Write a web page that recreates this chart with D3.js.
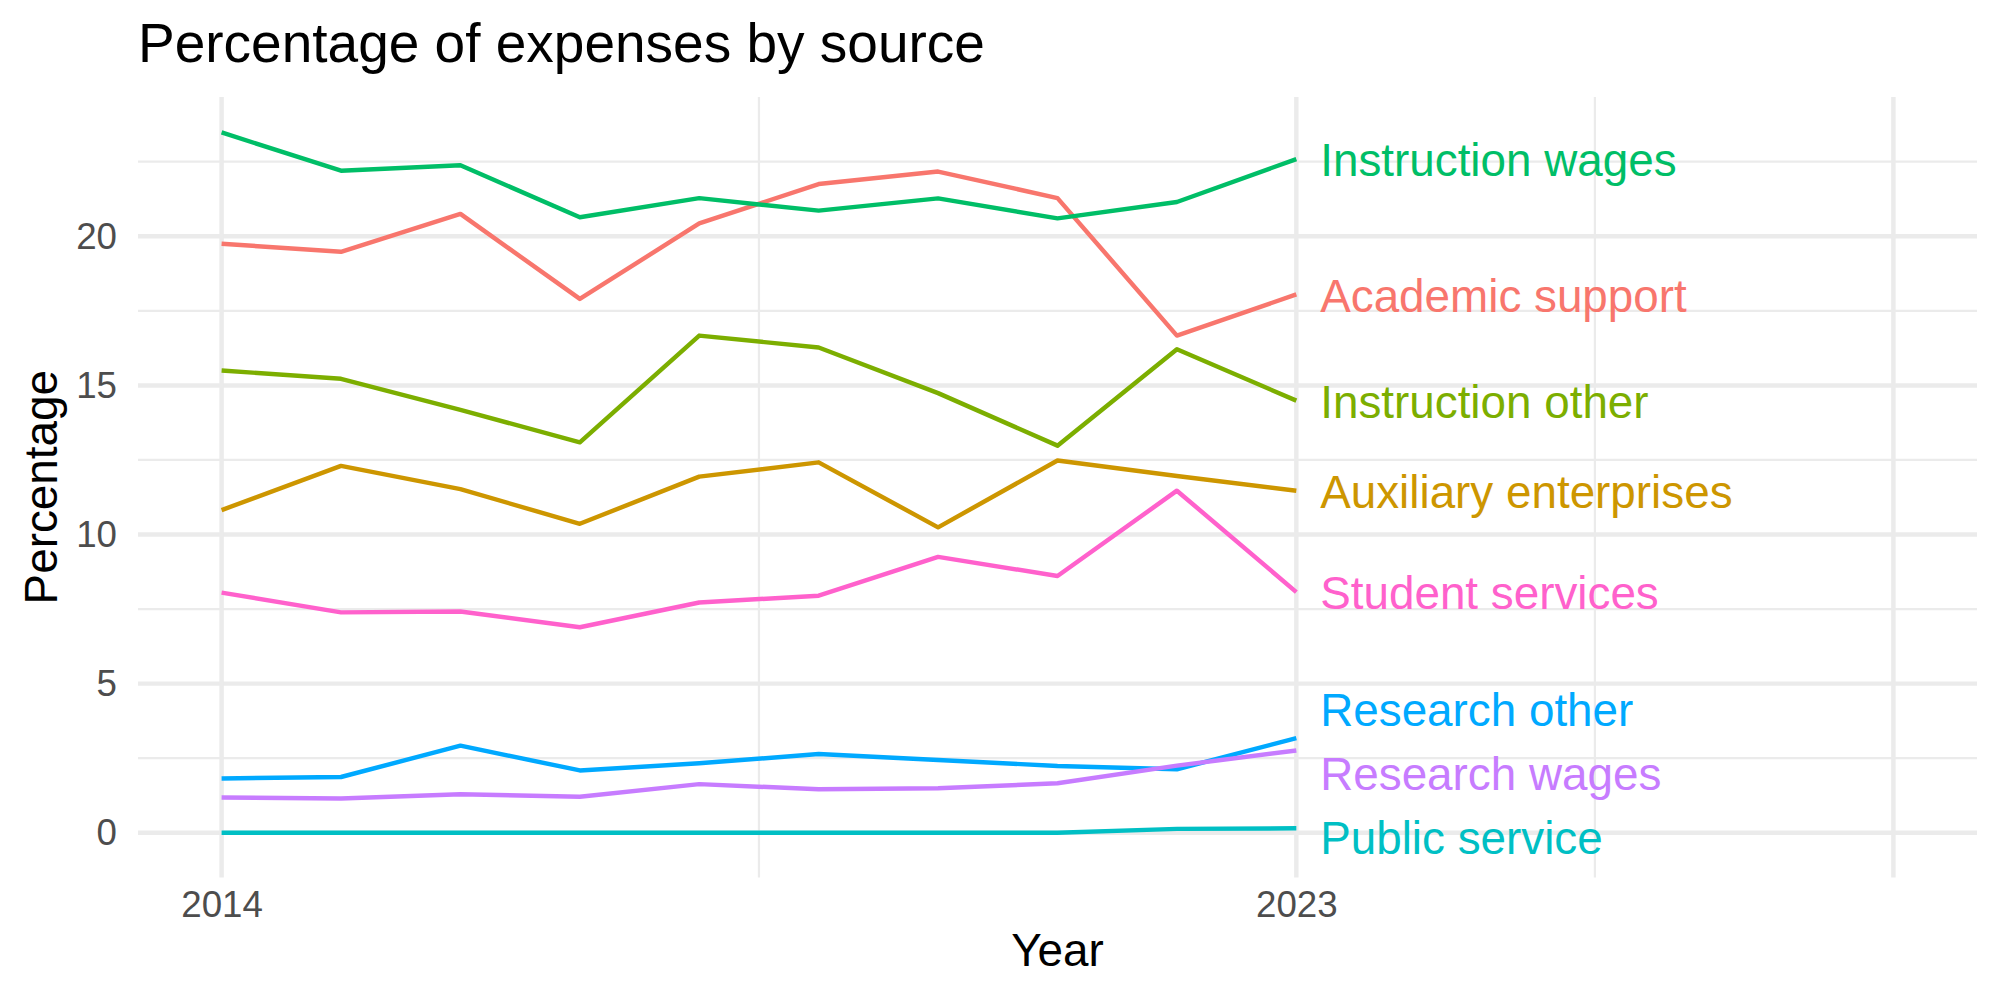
<!DOCTYPE html>
<html lang="en">
<head>
    <meta charset="UTF-8">
    <title>Percentage of expenses by source</title>
    <script src="https://cdn.jsdelivr.net/npm/d3@7"></script>
    <style>
        body { margin: 0; background: #fff; }
        text { font-family: 'Liberation Sans', Arial, sans-serif; }
    </style>
</head>
<body>
    <div class="chart"></div>
<script>
    // years on the x axis
    const years = [2014, 2015, 2016, 2017, 2018, 2019, 2020, 2021, 2022, 2023]

    // one array per expense source, percent of total
    const academicSupport = [19.75, 19.48, 20.75, 17.90, 20.43, 21.75, 22.17, 21.28, 16.67, 18.05]
    const auxiliaryEnterprises = [10.82, 12.30, 11.52, 10.36, 11.94, 12.42, 10.24, 12.48, 11.96, 11.47]
    const instructionOther = [15.50, 15.22, 14.18, 13.09, 16.67, 16.27, 14.74, 12.98, 16.21, 14.49]
    const instructionWages = [23.48, 22.20, 22.38, 20.64, 21.28, 20.86, 21.27, 20.60, 21.15, 22.59]
    const publicService = [0, 0, 0, 0, 0, 0, 0, 0, 0.13, 0.15]
    const researchOther = [1.82, 1.87, 2.92, 2.09, 2.33, 2.64, 2.44, 2.24, 2.13, 3.17]
    const researchWages = [1.18, 1.15, 1.29, 1.21, 1.63, 1.46, 1.49, 1.66, 2.25, 2.76]
    const studentServices = [8.05, 7.39, 7.42, 6.89, 7.72, 7.95, 9.25, 8.61, 11.47, 8.07]

    const sourceNames = ['Academic support', 'Auxiliary enterprises', 'Instruction other', 'Instruction wages',
        'Public service', 'Research other', 'Research wages', 'Student services']
    const sourceValues = [academicSupport, auxiliaryEnterprises, instructionOther, instructionWages,
        publicService, researchOther, researchWages, studentServices]
    const colors = ['#F8766D', '#CD9600', '#7CAE00', '#00BE67', '#00BFC4', '#00A9FF', '#C77CFF', '#FF61CC']

    // axis breaks
    const xMajor = [2014, 2023, 2028]
    const xMinor = [2018.5, 2025.5]
    const xLabels = [2014, 2023]
    const yMajor = [0, 5, 10, 15, 20]
    const yMinor = [2.5, 7.5, 12.5, 17.5, 22.5]

    const width = 2000
    const height = 1000
    const panel = { left: 138, right: 1977, top: 97, bottom: 877.5 }
    const gridColor = '#EBEBEB'

    const dataset = sourceNames.map((name, i) => ({
        name: name,
        color: colors[i],
        values: years.map((y, j) => [y, sourceValues[i][j]])
    }))

    const xScale = d3.scaleLinear().domain([2013.3, 2028.7]).range([panel.left, panel.right])
    const yScale = d3.scaleLinear().domain([-1.5, 24.67]).range([panel.bottom, panel.top])

    const svg = d3.select('.chart')
        .append('svg')
        .attr('width', width)
        .attr('height', height)

    svg.append('rect').attr('width', width).attr('height', height).attr('fill', '#fff')

    // grid
    const grid = svg.append('g')
    grid.selectAll('.ymin').data(yMinor).enter().append('line')
        .attr('x1', panel.left).attr('x2', panel.right)
        .attr('y1', d => yScale(d)).attr('y2', d => yScale(d))
        .attr('stroke', gridColor).attr('stroke-width', 2.2)
    grid.selectAll('.xmin').data(xMinor).enter().append('line')
        .attr('x1', d => xScale(d)).attr('x2', d => xScale(d))
        .attr('y1', panel.top).attr('y2', panel.bottom)
        .attr('stroke', gridColor).attr('stroke-width', 2.2)
    grid.selectAll('.ymaj').data(yMajor).enter().append('line')
        .attr('x1', panel.left).attr('x2', panel.right)
        .attr('y1', d => yScale(d)).attr('y2', d => yScale(d))
        .attr('stroke', gridColor).attr('stroke-width', 4.45)
    grid.selectAll('.xmaj').data(xMajor).enter().append('line')
        .attr('x1', d => xScale(d)).attr('x2', d => xScale(d))
        .attr('y1', panel.top).attr('y2', panel.bottom)
        .attr('stroke', gridColor).attr('stroke-width', 4.45)

    // axes (labels only)
    const xAxis = d3.axisBottom(xScale).tickValues(xLabels).tickFormat(d3.format('d')).tickSize(0).tickPadding(13.5)
    const gX = svg.append('g').attr('transform', `translate(0, ${panel.bottom})`).call(xAxis)
    const yAxis = d3.axisLeft(yScale).tickValues(yMajor).tickSize(0).tickPadding(21)
    const gY = svg.append('g').attr('transform', `translate(${panel.left}, 0)`).call(yAxis)
    ;[gX, gY].forEach(g => {
        g.select('.domain').remove()
        g.attr('font-family', null).attr('font-size', null)
        g.selectAll('text').attr('font-size', '36.7px').attr('fill', '#4D4D4D')
    })
    gY.selectAll('text').attr('dy', '0.32em')

    // lines
    const linePath = d3.line().x(d => xScale(d[0])).y(d => yScale(d[1]))
    svg.selectAll('.path')
        .data(dataset)
        .enter()
        .append('path')
        .attr('class', 'path')
        .attr('fill', 'none')
        .attr('d', d => linePath(d.values))
        .attr('stroke', d => d.color)
        .attr('stroke-width', 4.45)
        .attr('stroke-linejoin', 'round')

    // end labels, pushed apart where they would overlap
    function spreadLabels(items, gap) {
        const sorted = items.slice().sort((a, b) => a.y0 - b.y0)
        let groups = sorted.map(d => ({ members: [d] }))
        const place = g => {
            const mean = d3.mean(g.members, d => d.y0)
            const n = g.members.length
            g.members.forEach((d, i) => { d.y = mean + (i - (n - 1) / 2) * gap })
        }
        groups.forEach(place)
        let merged = true
        while (merged) {
            merged = false
            for (let i = 0; i < groups.length - 1; i++) {
                const a = groups[i], b = groups[i + 1]
                if (b.members[0].y - a.members[a.members.length - 1].y < gap) {
                    const g = { members: a.members.concat(b.members) }
                    place(g)
                    groups.splice(i, 2, g)
                    merged = true
                    break
                }
            }
        }
        return items
    }

    const labels = spreadLabels(dataset.map(d => ({
        name: d.name,
        color: d.color,
        x: xScale(d.values[d.values.length - 1][0] + 0.2),
        y0: yScale(d.values[d.values.length - 1][1])
    })), 64)

    svg.selectAll('.label')
        .data(labels)
        .enter()
        .append('text')
        .attr('class', 'label')
        .attr('x', d => d.x)
        .attr('y', d => d.y)
        .attr('dy', '0.38em')
        .attr('font-size', '45.8px')
        .attr('fill', d => d.color)
        .text(d => d.name)

    // titles
    svg.append('text')
        .attr('x', panel.left)
        .attr('y', 62)
        .attr('font-size', '55px')
        .attr('fill', '#000')
        .text('Percentage of expenses by source')

    svg.append('text')
        .attr('x', (panel.left + panel.right) / 2)
        .attr('y', 966)
        .attr('text-anchor', 'middle')
        .attr('font-size', '45.8px')
        .attr('fill', '#000')
        .text('Year')

    svg.append('text')
        .attr('transform', `translate(57, ${(panel.top + panel.bottom) / 2}) rotate(-90)`)
        .attr('text-anchor', 'middle')
        .attr('font-size', '45.8px')
        .attr('fill', '#000')
        .text('Percentage')
</script>
</body>
</html>
